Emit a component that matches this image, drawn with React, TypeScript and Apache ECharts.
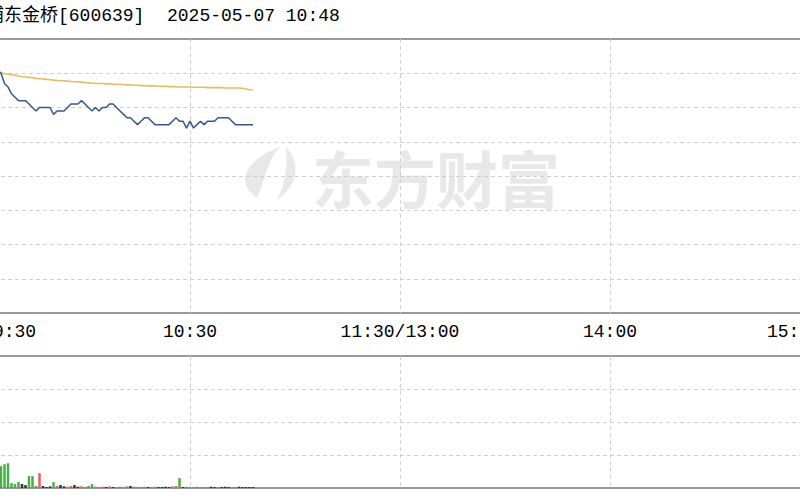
import React, { useEffect, useRef } from "react";
import * as echarts from "echarts";

// ---- data ----
const titleName = "浦东金桥[600639]";
const titleTime = "2025-05-07 10:48";
const timeLabels = ["9:30", "10:30", "11:30/13:00", "14:00", "15:00"];
const timeLabelIndex = [0, 60, 120, 180, 240];
const prevClose = 13.5;
const priceMin = 13.1;
const priceMax = 13.9;
const priceStep = 0.1;
const volMax = 40000;
const volStep = 10000;

const price = [
  13.82, 13.83, 13.81, 13.82, 13.80, 13.81,
  13.80, 13.77, 13.76, 13.74, 13.73, 13.72, 13.72, 13.72,
  13.71, 13.70, 13.69, 13.70, 13.70, 13.70,
  13.70, 13.68, 13.69, 13.69, 13.69, 13.70, 13.71, 13.71, 13.71, 13.72,
  13.71, 13.70, 13.69, 13.70, 13.69, 13.70, 13.70, 13.71, 13.71, 13.70,
  13.69, 13.68, 13.67, 13.67, 13.66, 13.65, 13.66, 13.67, 13.67, 13.66,
  13.65, 13.65, 13.65, 13.65, 13.65, 13.66, 13.67, 13.66, 13.66, 13.64,
  13.66, 13.64, 13.65, 13.66, 13.65, 13.66, 13.66, 13.66, 13.67, 13.67,
  13.67, 13.67, 13.66, 13.65, 13.65, 13.65, 13.65, 13.65, 13.65,
];

const avgPrice = [
  13.820, 13.822, 13.818, 13.815, 13.810, 13.805,
  13.801, 13.799, 13.797, 13.796, 13.794,
  13.792, 13.790, 13.789, 13.788, 13.787,
  13.785, 13.784, 13.783, 13.782, 13.781,
  13.780, 13.779, 13.778, 13.778, 13.777, 13.776, 13.775, 13.775,
  13.774, 13.773, 13.772,
  13.771, 13.771, 13.770, 13.770, 13.769, 13.769, 13.768, 13.768, 13.767, 13.767, 13.766, 13.766, 13.765, 13.765,
  13.764, 13.764, 13.763, 13.763, 13.763, 13.762, 13.762, 13.762, 13.761, 13.761, 13.761, 13.760, 13.760, 13.760, 13.760,
  13.759, 13.759, 13.759, 13.759, 13.758, 13.758, 13.758, 13.758, 13.758, 13.757, 13.757, 13.757, 13.757, 13.757,
  13.756, 13.754, 13.752, 13.751,
];

const volume = [
  30000, 12000, 9000, 8000, 9000, 7000,
  6600, 7200, 7500,
  1500, 1200, 1800, 1200, 900,
  3600, 3600, 600, 4500,
  600, 300, 500, 1800, 600, 900,
  500, 400, 600, 900, 400, 500, 300, 600, 1200, 400,
  300, 400, 300, 500, 300, 300, 400, 300, 500, 600,
  400, 300, 300, 400, 300, 300, 400, 300, 300, 400, 300, 500,
  600, 3000,
  300, 400, 300, 300, 400, 300, 300, 300, 400, 300,
  300, 300, 400, 300, 300, 300, 400, 300, 300, 300, 300,
];

const UP = "#f25a5a";
const DOWN = "#45b045";
const FLAT = "#333333";

const LOGO_D =
  "M20 53 C0 41 4 16 43 2 C30 16 28 36 20 53 Z M49 2 C63 16 63 39 40 55 C48 39 51 21 49 2 Z";

function buildTimes(): string[] {
  const out: string[] = [];
  const pad = (n: number) => (n < 10 ? "0" + n : "" + n);
  for (let m = 9 * 60 + 30; m <= 11 * 60 + 30; m++) out.push(Math.floor(m / 60) + ":" + pad(m % 60));
  for (let m = 13 * 60 + 1; m <= 15 * 60; m++) out.push(Math.floor(m / 60) + ":" + pad(m % 60));
  return out;
}

export default function App() {
  const ref = useRef<HTMLDivElement>(null);
  useEffect(() => {
    if (!ref.current) return;
    echarts.graphic.registerShape("emLogo", echarts.graphic.extendPath(LOGO_D, {}));
    const chart = echarts.init(ref.current, null, { renderer: "svg" });
    const times = buildTimes();
    const font = "'Liberation Mono', 'Noto Sans CJK SC', monospace";
    const dash = { color: "#cfcfcf", type: [4, 3] as any, width: 1 };
    const isLabel = (i: number) => timeLabelIndex.indexOf(i) >= 0;

    const barData = volume.map((v, i) => {
      const prev = i === 0 ? prevClose : price[i - 1];
      const c = price[i] > prev ? UP : price[i] < prev ? DOWN : FLAT;
      return { value: v, itemStyle: { color: c } };
    });

    const option: any = {
      animation: false,
      backgroundColor: "#ffffff",
      grid: [
        {
          left: -20, width: 840, top: 39, height: 274,
          show: true, borderColor: "#9a9a9a", borderWidth: 2,
          containLabel: false, outerBoundsMode: "none",
        },
        {
          left: -20, width: 840, top: 356, height: 132,
          show: true, borderColor: "#9a9a9a", borderWidth: 2,
          containLabel: false, outerBoundsMode: "none",
        },
      ],
      xAxis: [
        {
          type: "category", gridIndex: 0, data: times, boundaryGap: false,
          axisLine: { show: false }, axisTick: { show: false },
          splitLine: { show: true, interval: (i: number) => i % 60 === 0, lineStyle: dash },
          axisLabel: {
            show: true, interval: (i: number) => isLabel(i), margin: 10,
            fontFamily: font, fontSize: 18, color: "#000",
            formatter: (_v: string, i: number) => {
              const k = timeLabelIndex.indexOf(i);
              if (k < 0) return "";
              if (k === 0) return "{first|" + timeLabels[k] + "}";
              if (k === timeLabels.length - 1) return "{last|" + timeLabels[k] + "}";
              return "{n|" + timeLabels[k] + "}";
            },
            rich: {
              first: { padding: [0, 0, 0, 69], fontFamily: font, fontSize: 18, color: "#000" },
              last: { padding: [0, 52, 0, 0], fontFamily: font, fontSize: 18, color: "#000" },
              n: { fontFamily: font, fontSize: 18, color: "#000" },
            },
          },
        },
        {
          type: "category", gridIndex: 1, data: times, boundaryGap: false,
          axisLine: { show: false }, axisTick: { show: false }, axisLabel: { show: false },
          splitLine: { show: true, interval: (i: number) => i % 60 === 0, lineStyle: dash },
        },
      ],
      yAxis: [
        {
          type: "value", gridIndex: 0, min: priceMin, max: priceMax, interval: priceStep,
          axisLine: { show: false }, axisTick: { show: false }, axisLabel: { show: false },
          splitLine: { show: true, lineStyle: dash, showMinLine: false, showMaxLine: false },
        },
        {
          type: "value", gridIndex: 1, min: 0, max: volMax, interval: volStep,
          axisLine: { show: false }, axisTick: { show: false }, axisLabel: { show: false },
          splitLine: { show: true, lineStyle: dash, showMinLine: false, showMaxLine: false },
        },
      ],
      series: [
        {
          type: "line", name: "均价", xAxisIndex: 0, yAxisIndex: 0, data: avgPrice,
          showSymbol: false, symbol: "none", lineStyle: { color: "#e3bd5e", width: 1.6 },
          z: 3,
        },
        {
          type: "line", name: "价格", xAxisIndex: 0, yAxisIndex: 0, data: price,
          showSymbol: false, symbol: "none", lineStyle: { color: "#35598c", width: 1.5 },
          z: 4,
        },
        {
          type: "bar", name: "成交量", xAxisIndex: 1, yAxisIndex: 1, data: barData,
          barWidth: 2.5,
        },
      ],
      graphic: [
        {
          type: "emLogo", x: 237, y: 145, z: -1, silent: true,
          style: { fill: "#e8e8e8" },
        },
        {
          type: "text", x: 312, y: 177, z: -1, silent: true,
          style: {
            text: "东方财富", fill: "#e8e8e8", fontSize: 62, fontWeight: "bold",
            fontFamily: "'Noto Sans CJK SC'", verticalAlign: "middle", align: "left",
          },
        },
        {
          type: "text", x: -14, y: 16,
          style: { text: titleName, fill: "#000", fontSize: 18, fontFamily: font, verticalAlign: "middle" },
        },
        {
          type: "text", x: 167, y: 16,
          style: { text: titleTime, fill: "#000", fontSize: 18, fontFamily: font, verticalAlign: "middle" },
        },
      ],
    };
    chart.setOption(option);
    return () => chart.dispose();
  }, []);
  return (
    <div
      ref={ref}
      style={{ position: "fixed", left: 0, top: 0, width: 800, height: 500, background: "#fff" }}
    />
  );
}
